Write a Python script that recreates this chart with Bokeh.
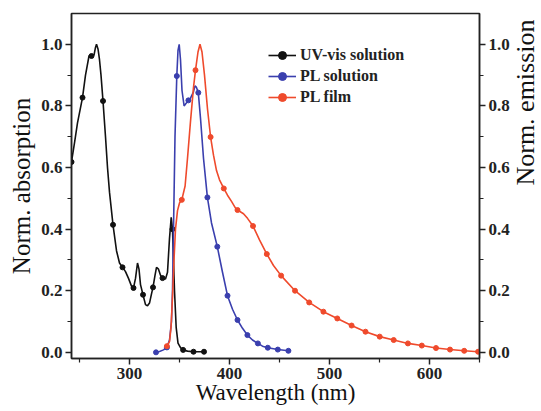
import math
from bokeh.plotting import figure
from bokeh.layouts import row
from bokeh.models import (LinearAxis, Range1d, FixedTicker, PrintfTickFormatter,
                          Legend, LegendItem, Label)
from bokeh.embed import file_html
from bokeh.resources import INLINE

# ---------------- data ----------------
uv_x = [242, 245, 248, 253, 256, 259.5, 262, 264.5, 266, 267, 268.5, 270, 271.5, 273.5,
        276, 278, 280, 283.5, 287, 290, 293, 296, 299, 302, 304, 306, 308, 309.5, 311,
        313.5, 316, 318, 320, 322, 323.5, 325.5, 327, 329, 331, 333, 336, 338, 340,
        341.7, 343, 344, 345, 346.7, 348.5, 351, 353.6, 358, 364, 374.5]
uv_y = [0.618, 0.68, 0.745, 0.827, 0.9, 0.962, 0.965, 0.965, 0.99, 1.0, 0.985, 0.95,
        0.9, 0.816, 0.7, 0.6, 0.52, 0.414, 0.33, 0.29, 0.276, 0.262, 0.24, 0.215, 0.209,
        0.24, 0.29, 0.27, 0.22, 0.187, 0.155, 0.151, 0.16, 0.19, 0.211, 0.25, 0.276,
        0.27, 0.25, 0.241, 0.238, 0.26, 0.37, 0.438, 0.40, 0.30, 0.2, 0.08, 0.03, 0.015,
        0.008, 0.004, 0.002, 0.002]
uv_mx = [242, 253, 262, 273.5, 283.5, 293, 304, 313.5, 323.5, 333, 343, 353.6, 364, 374.5]
uv_my = [0.618, 0.827, 0.962, 0.816, 0.414, 0.276, 0.209, 0.187, 0.211, 0.241, 0.40,
         0.008, 0.002, 0.002]

pls_x = [326.5, 330, 334, 337.4, 340, 342, 343, 344, 345.5, 347.3, 348.5, 349.7, 351,
         352.5, 354.6, 357, 358.9, 361, 363.9, 365.5, 367, 368.8, 371, 374, 377.9, 382,
         387.8, 393, 398, 403, 408, 413, 417.9, 423, 428.4, 433, 438.3, 448.3, 458.9]
pls_y = [0.0, 0.003, 0.008, 0.016, 0.04, 0.1, 0.2, 0.4, 0.7, 0.897, 0.98, 1.0, 0.95,
         0.85, 0.8, 0.81, 0.818, 0.825, 0.845, 0.865, 0.86, 0.843, 0.76, 0.63, 0.503,
         0.42, 0.343, 0.26, 0.184, 0.14, 0.105, 0.078, 0.056, 0.04, 0.029, 0.02, 0.015,
         0.009, 0.005]
pls_mx = [326.5, 337.4, 347.3, 358.9, 368.8, 377.9, 387.8, 398, 408, 417.9, 428.4,
          438.3, 448.3, 458.9]
pls_my = [0.0, 0.016, 0.897, 0.818, 0.843, 0.503, 0.343, 0.184, 0.105, 0.056, 0.029,
          0.015, 0.009, 0.005]

plf_x = [337.4, 340, 341.5, 343, 344.5, 346, 348, 350, 352.3, 355.6, 358, 361, 364, 366,
         368.5, 370.5, 372.5, 375, 378, 381.1, 384, 387, 390, 394.3, 398, 402, 406, 410,
         414, 418, 423.5, 430, 437.3, 444, 451.6, 465.5, 479.7, 493.9, 507.8, 522.1, 536,
         550.2, 564.2, 578.4, 592.3, 606.5, 620.5, 634.7, 648.6]
plf_y = [0.02, 0.035, 0.08, 0.18, 0.3, 0.4, 0.46, 0.485, 0.495, 0.54, 0.63, 0.75, 0.86,
         0.916, 0.975, 1.0, 0.975, 0.9, 0.79, 0.699, 0.64, 0.59, 0.56, 0.532, 0.51, 0.49,
         0.468, 0.458, 0.45, 0.435, 0.41, 0.365, 0.319, 0.282, 0.249, 0.2, 0.162, 0.132,
         0.11, 0.087, 0.067, 0.051, 0.04, 0.029, 0.022, 0.014, 0.009, 0.005, 0.002]
plf_mx = [337.4, 352.3, 366, 381.1, 394.3, 408, 423.5, 437.3, 451.6, 465.5, 479.7, 493.9,
          507.8, 522.1, 536, 550.2, 564.2, 578.4, 592.3, 606.5, 620.5, 634.7, 648.6]
plf_my = [0.02, 0.495, 0.916, 0.699, 0.532, 0.462, 0.41, 0.319, 0.249, 0.2, 0.162, 0.132,
          0.11, 0.087, 0.067, 0.051, 0.04, 0.029, 0.022, 0.014, 0.009, 0.005, 0.002]

x_ticks = [300, 400, 500, 600]
x_minor = [250, 350, 450, 550, 650]
y_ticks = [0.0, 0.2, 0.4, 0.6, 0.8, 1.0]
y_minor = [0.1, 0.3, 0.5, 0.7, 0.9]
series_names = ["UV-vis solution", "PL solution", "PL film"]
colors = ["#111111", "#3a3fae", "#ef4a2c"]
x_title = "Wavelength (nm)"
y_title = "Norm. absorption"
y2_title = "Norm. emission"

FONT = "Liberation Serif"

p = figure(width=512, height=411, output_backend="svg", toolbar_location=None,
           x_range=Range1d(242, 650), y_range=Range1d(-0.02, 1.1),
           min_border_left=71, min_border_right=30, min_border_top=13,
           min_border_bottom=53)
p.xgrid.visible = False
p.ygrid.visible = False
p.outline_line_color = "#222222"
p.outline_line_width = 1.5
p.background_fill_color = "white"
p.border_fill_color = "white"

right_axis = LinearAxis()
p.add_layout(right_axis, "right")

for ax in [p.xaxis[0], p.yaxis[0], right_axis]:
    ax.axis_line_color = "#222222"
    ax.axis_line_width = 1.5
    ax.major_tick_line_color = "#222222"
    ax.minor_tick_line_color = "#222222"
    ax.major_tick_line_width = 1.5
    ax.minor_tick_line_width = 1.2
    ax.major_tick_in = 0
    ax.major_tick_out = 6
    ax.minor_tick_in = 0
    ax.minor_tick_out = 4
    ax.major_label_text_font = FONT
    ax.major_label_text_font_style = "bold"
    ax.major_label_text_font_size = "17px"
    ax.major_label_text_color = "#222222"
    ax.major_label_standoff = 3
    ax.axis_label_text_font = FONT
    ax.axis_label_text_font_style = "normal"
    ax.axis_label_text_color = "#111111"

p.xaxis[0].ticker = FixedTicker(ticks=x_ticks, minor_ticks=x_minor)
for ax in [p.yaxis[0], right_axis]:
    ax.ticker = FixedTicker(ticks=y_ticks, minor_ticks=y_minor)
    ax.formatter = PrintfTickFormatter(format="%.1f")

p.xaxis[0].axis_label = x_title
p.xaxis[0].axis_label_text_font_size = "23px"
p.xaxis[0].axis_label_standoff = -2
p.yaxis[0].axis_label = y_title
p.yaxis[0].axis_label_text_font_size = "25px"
p.yaxis[0].axis_label_standoff = 3

data = [(uv_x, uv_y, uv_mx, uv_my), (pls_x, pls_y, pls_mx, pls_my),
        (plf_x, plf_y, plf_mx, plf_my)]
items = []
for (lx, ly, mx, my), name, c in zip(data, series_names, colors):
    lr = p.line(lx, ly, line_color=c, line_width=1.6)
    sr = p.scatter(mx, my, size=5, fill_color=c, line_color=c)
    items.append(LegendItem(label=name, renderers=[lr, sr]))

legend = Legend(items=items, location=(197, 251), padding=0, margin=0, spacing=1,
                glyph_width=28, glyph_height=20, label_height=20, label_standoff=4,
                label_text_font=FONT, label_text_font_style="bold",
                label_text_font_size="16px", label_text_color="#222222",
                border_line_alpha=0, background_fill_alpha=0)
p.add_layout(legend)

# narrow strip on the right holding the right-axis title (reads bottom to top)
p2 = figure(width=29, height=411, output_backend="svg", toolbar_location=None,
            x_range=Range1d(0, 1), y_range=Range1d(0, 1),
            x_axis_location=None, y_axis_location=None, min_border=0)
p2.xgrid.visible = False
p2.ygrid.visible = False
p2.outline_line_color = None
p2.background_fill_color = "white"
p2.border_fill_color = "white"
p2.add_layout(Label(x=13, y=256, x_units="screen", y_units="screen", text=y2_title,
                    angle=math.pi / 2, text_align="center", text_baseline="middle",
                    text_font=FONT, text_font_size="26px", text_color="#111111"))

layout = row(p, p2, spacing=0)
open("out.html", "w").write(file_html(layout, INLINE))
